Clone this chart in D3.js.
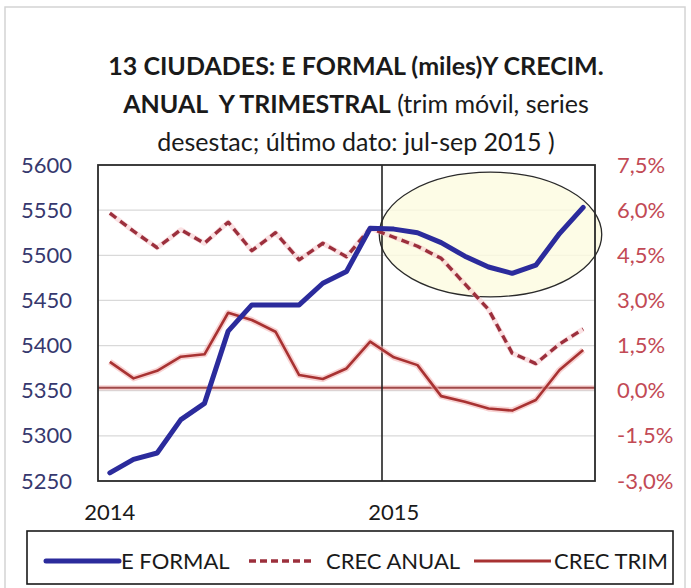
<!DOCTYPE html>
<html>
<head>
<meta charset="utf-8">
<script src="https://cdn.jsdelivr.net/npm/d3@7"></script>
<style>
	html, body { margin: 0; padding: 0; background: #fff; }
	svg { display: block; font-family: Lato, "Open Sans", sans-serif; }
</style>
</head>
<body>
<script>
// categories: months from ene-2014 to sep-2015
const months = ["ene-14", "feb-14", "mar-14", "abr-14", "may-14", "jun-14", "jul-14", "ago-14", "sep-14", "oct-14", "nov-14", "dic-14",
	"ene-15", "feb-15", "mar-15", "abr-15", "may-15", "jun-15", "jul-15", "ago-15", "sep-15"];

// E FORMAL (miles), left axis
const eFormal = [5259, 5274, 5281, 5318, 5336, 5416, 5445, 5445, 5445, 5469, 5482, 5530,
	5529, 5525, 5514, 5499, 5487, 5480, 5489, 5524, 5553];

// CREC ANUAL (%), right axis
const crecAnual = [5.9, 5.3, 4.75, 5.35, 4.9, 5.6, 4.65, 5.25, 4.35, 4.9, 4.45, 5.4,
	5.1, 4.8, 4.4, 3.55, 2.7, 1.25, 0.9, 1.55, 2.05];

// CREC TRIM (%), right axis
const crecTrim = [0.96, 0.41, 0.66, 1.13, 1.21, 2.59, 2.35, 1.96, 0.52, 0.39, 0.74, 1.63,
	1.11, 0.85, -0.18, -0.37, -0.59, -0.66, -0.31, 0.69, 1.35];

// tick labels
const leftTicks = [5250, 5300, 5350, 5400, 5450, 5500, 5550, 5600];
const rightTicks = [-3.0, -1.5, 0.0, 1.5, 3.0, 4.5, 6.0, 7.5];
const yearTicks = ["ene-14", "ene-15"];
const yearLabels = ["2014", "2015"];
const legendNames = ["E FORMAL", "CREC ANUAL", "CREC TRIM"];

// highlighted zone (ellipse) in data units
const zoneMonth = "may-15";
const zoneValues = [5454, 5592];

//width and height of svg
const width = 691;
const height = 588;
const plot = {left: 98, right: 595, top: 165, bottom: 481};

const colBlue = "#2b2b9c";
const colDash = "#9c2f3c";
const colTrim = "#a83232";

// spanish number format: decimal comma, plain hyphen as minus
const esLocale = d3.formatLocale({decimal: ",", thousands: ".", grouping: [3], currency: ["", " €"], minus: "-"});
const fmtPct = v => esLocale.format(".1f")(v) + "%";

const svg = d3.select("body").append("svg")
	.attr("width", width)
	.attr("height", height);

// outer frame
svg.append("rect")
	.attr("x", 5).attr("y", 7)
	.attr("width", 680).attr("height", 600)
	.attr("fill", "#fff")
	.attr("stroke", "#d4d4d4")
	.attr("stroke-width", 1.5);

//scales
const x = d3.scaleBand().domain(months).range([plot.left, plot.right]);
const cx = m => x(m) + x.bandwidth() / 2;
const yLeft = d3.scaleLinear().domain([5250, 5600]).range([plot.bottom, plot.top]);
const yRight = d3.scaleLinear().domain([-3, 7.5]).range([plot.bottom, plot.top]);

//title
const title = svg.append("text")
	.attr("text-anchor", "middle")
	.attr("fill", "#1a1a1a")
	.style("font-size", "25px")
	.style("white-space", "pre");
title.append("tspan").attr("x", 356).attr("y", 75)
	.attr("font-weight", "bold")
	.text("13 CIUDADES: E FORMAL (miles)Y CRECIM.");
const line2 = title.append("tspan").attr("x", 356).attr("y", 113);
line2.append("tspan").attr("font-weight", "bold").text("ANUAL\u00a0 Y TRIMESTRAL");
line2.append("tspan").text(" (trim móvil, series");
title.append("tspan").attr("x", 356).attr("y", 151)
	.text("desestac; último dato: jul-sep 2015 )");

//gridlines
svg.append("g")
	.selectAll("line")
	.data(leftTicks.slice(1, -1))
	.join("line")
	.attr("x1", plot.left).attr("x2", plot.right)
	.attr("y1", d => yLeft(d)).attr("y2", d => yLeft(d))
	.attr("stroke", "#d9d9d9")
	.attr("stroke-width", 1.2);

//highlight ellipse
const ellCy = (yLeft(zoneValues[0]) + yLeft(zoneValues[1])) / 2;
svg.append("ellipse")
	.attr("cx", cx(zoneMonth) + 2)
	.attr("cy", ellCy)
	.attr("rx", x.bandwidth() * 4.7)
	.attr("ry", (yLeft(zoneValues[0]) - yLeft(zoneValues[1])) / 2)
	.attr("fill", "#fcfbe0")
	.attr("fill-opacity", 0.8)
	.attr("stroke", "#2a2a2a")
	.attr("stroke-width", 1.3);

//zero line of right axis
const zeroG = svg.append("g");
zeroG.append("line")
	.attr("x1", plot.left).attr("x2", plot.right)
	.attr("y1", yRight(0) - 3).attr("y2", yRight(0) - 3)
	.attr("stroke", "#f3b8b8").attr("stroke-width", 5).attr("opacity", 0.6);
zeroG.append("line")
	.attr("x1", plot.left).attr("x2", plot.right)
	.attr("y1", yRight(0) - 3).attr("y2", yRight(0) - 3)
	.attr("stroke", "#a04a4a").attr("stroke-width", 2);

//vertical line at start of 2015
svg.append("line")
	.attr("x1", x("ene-15")).attr("x2", x("ene-15"))
	.attr("y1", plot.top).attr("y2", plot.bottom)
	.attr("stroke", "#222").attr("stroke-width", 1.6);

//line generators
const lineLeft = d3.line()
	.x((d, i) => cx(months[i]))
	.y(d => yLeft(d));
const lineRight = d3.line()
	.x((d, i) => cx(months[i]))
	.y(d => yRight(d));

const series = svg.append("g")
	.attr("fill", "none")
	.attr("stroke-linejoin", "round");

// CREC TRIM with pink halo
series.append("path")
	.attr("d", lineRight(crecTrim))
	.attr("stroke", "#f4b4b4").attr("stroke-width", 6).attr("opacity", 0.6);
series.append("path")
	.attr("d", lineRight(crecTrim))
	.attr("stroke", colTrim).attr("stroke-width", 2.6);

// CREC ANUAL dashed
series.append("path")
	.attr("d", lineRight(crecAnual))
	.attr("stroke", "#f6c4c8").attr("stroke-width", 5).attr("opacity", 0.5);
series.append("path")
	.attr("d", lineRight(crecAnual))
	.attr("stroke", colDash).attr("stroke-width", 3.4)
	.attr("stroke-dasharray", "8,5");

// E FORMAL
series.append("path")
	.attr("d", lineLeft(eFormal))
	.attr("stroke", colBlue).attr("stroke-width", 5)
	.attr("stroke-linecap", "round");

//plot frame
svg.append("rect")
	.attr("x", plot.left).attr("y", plot.top)
	.attr("width", plot.right - plot.left).attr("height", plot.bottom - plot.top)
	.attr("fill", "none")
	.attr("stroke", "#2a2a2a")
	.attr("stroke-width", 1.8);

//axes
const axisL = svg.append("g")
	.attr("transform", `translate(${plot.left},0)`)
	.call(d3.axisLeft(yLeft).tickValues(leftTicks).tickSize(0).tickPadding(26).tickFormat(d3.format("d")));
axisL.select(".domain").remove();
axisL.selectAll("text")
	.attr("fill", "#36386e")
	.style("font-size", "22px")
	.style("font-family", "Lato, sans-serif");

const axisR = svg.append("g")
	.attr("transform", `translate(${plot.right},0)`)
	.call(d3.axisRight(yRight).tickValues(rightTicks).tickSize(0).tickPadding(22).tickFormat(fmtPct));
axisR.select(".domain").remove();
axisR.selectAll("text")
	.attr("fill", "#c24a55")
	.style("font-size", "22px")
	.style("font-family", "Lato, sans-serif");

const axisB = svg.append("g")
	.attr("transform", `translate(0,${plot.bottom})`)
	.call(d3.axisBottom(x).tickValues(yearTicks).tickSize(0).tickPadding(23)
		.tickFormat(d => yearLabels[yearTicks.indexOf(d)]));
axisB.select(".domain").remove();
axisB.selectAll("text")
	.attr("fill", "#1a1a1a")
	.style("font-size", "22px")
	.style("font-family", "Lato, sans-serif");

//legend
const legend = svg.append("g");
legend.append("rect")
	.attr("x", 27).attr("y", 531)
	.attr("width", 646).attr("height", 53)
	.attr("fill", "#fff")
	.attr("stroke", "#1a1a1a")
	.attr("stroke-width", 1.6);

const legendLayout = [
	{x1: 46, x2: 119, tx: 121, stroke: colBlue, w: 5, dash: null},
	{x1: 249, x2: 315, tx: 326, stroke: colDash, w: 3.4, dash: "7,4"},
	{x1: 474, x2: 551, tx: 554, stroke: colTrim, w: 3, dash: null}
];
const legendY = 561;
const items = legend.selectAll("g.item")
	.data(legendNames)
	.join("g")
	.attr("class", "item");
items.append("line")
	.attr("x1", (d, i) => legendLayout[i].x1)
	.attr("x2", (d, i) => legendLayout[i].x2)
	.attr("y1", legendY).attr("y2", legendY)
	.attr("stroke", (d, i) => legendLayout[i].stroke)
	.attr("stroke-width", (d, i) => legendLayout[i].w)
	.attr("stroke-dasharray", (d, i) => legendLayout[i].dash)
	.attr("stroke-linecap", (d, i) => i === 0 ? "round" : "butt");
items.append("text")
	.attr("x", (d, i) => legendLayout[i].tx)
	.attr("y", legendY)
	.attr("dy", "0.36em")
	.attr("fill", "#1a1a1a")
	.style("font-size", "22px")
	.text(d => d);
</script>
</body>
</html>
